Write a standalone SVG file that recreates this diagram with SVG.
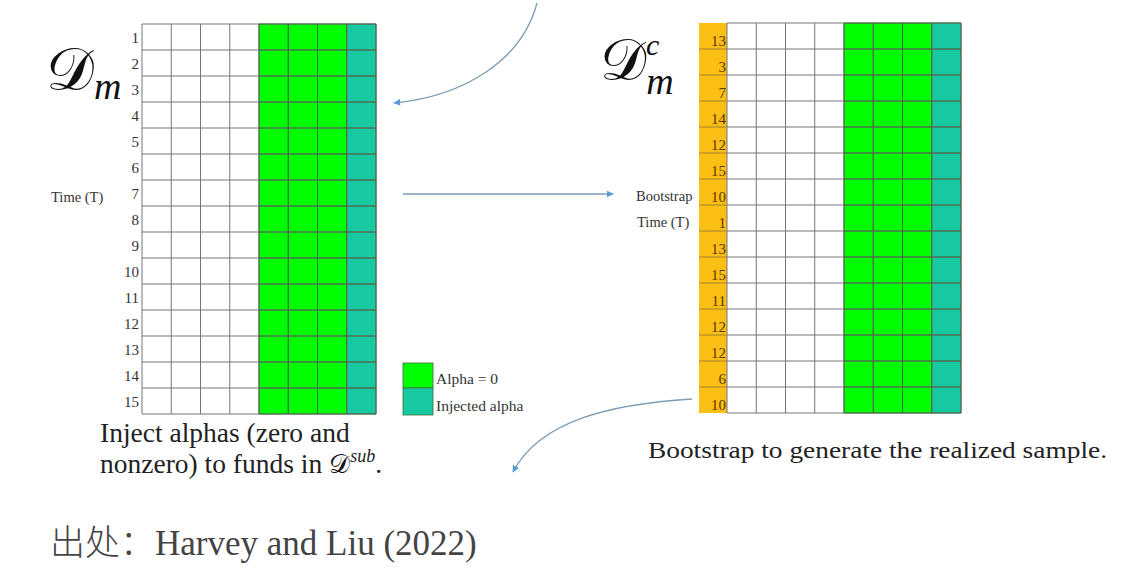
<svg xmlns="http://www.w3.org/2000/svg" width="1139" height="581" viewBox="0 0 1139 581">
<style>
.num{font-family:"Liberation Serif",serif;font-size:15px;fill:#333;text-anchor:end}
.onum{font-family:"Liberation Serif",serif;font-size:15px;fill:#5a3600;text-anchor:end}
.lab{font-family:"Liberation Serif",serif;font-size:14.5px;fill:#333}
.cal{font-family:"DejaVu Serif","Liberation Serif",serif;fill:#111}
.it{font-family:"Liberation Serif",serif;font-style:italic}
.cap{font-family:"Liberation Serif",serif;font-size:27.5px;fill:#222}
.grid{stroke:#777;stroke-width:1;fill:none}
.gridg{stroke:#3c6b3c;stroke-width:1;fill:none}
.conn{fill:none;stroke:#7d9db5;stroke-width:1.3}
</style>
<defs>
<marker id="ah" viewBox="0 0 10 10" refX="9" refY="5" markerWidth="7" markerHeight="7" orient="auto" markerUnits="userSpaceOnUse">
<path d="M0,0 L10,5 L0,10 z" fill="#5b9bd5"/>
</marker>
</defs>
<rect width="1139" height="581" fill="#fff"/>

<g id="left-grid">
<rect x="142" y="24" width="234" height="390" fill="#fff"/>
<rect x="259" y="24" width="87.75" height="390" fill="#00ff00"/>
<rect x="346.75" y="24" width="29.25" height="390" fill="#17c9a0"/>
<path class="grid" d="M142,24V414M171.25,24V414M200.5,24V414M229.75,24V414M259,24V414M288.25,24V414M317.5,24V414M346.75,24V414M376,24V414
M142,24H376M142,50H376M142,76H376M142,102H376M142,128H376M142,154H376M142,180H376M142,206H376M142,232H376M142,258H376M142,284H376M142,310H376M142,336H376M142,362H376M142,388H376M142,414H376"/>
<path class="gridg" d="M259,24V414M288.25,24V414M317.5,24V414M346.75,24V414M376,24V414M259,24H376M259,50H376M259,76H376M259,102H376M259,128H376M259,154H376M259,180H376M259,206H376M259,232H376M259,258H376M259,284H376M259,310H376M259,336H376M259,362H376M259,388H376M259,414H376"/>
<text class="num" x="139" y="43">1</text>
<text class="num" x="139" y="69">2</text>
<text class="num" x="139" y="95">3</text>
<text class="num" x="139" y="121">4</text>
<text class="num" x="139" y="147">5</text>
<text class="num" x="139" y="173">6</text>
<text class="num" x="139" y="199">7</text>
<text class="num" x="139" y="225">8</text>
<text class="num" x="139" y="251">9</text>
<text class="num" x="139" y="277">10</text>
<text class="num" x="139" y="303">11</text>
<text class="num" x="139" y="329">12</text>
<text class="num" x="139" y="355">13</text>
<text class="num" x="139" y="381">14</text>
<text class="num" x="139" y="407">15</text>
<text class="lab" x="51" y="202">Time (T)</text>
<text class="cal" x="46" y="90" font-size="60">𝒟<tspan class="it" font-size="38" dy="9">m</tspan></text>
</g>

<g id="right-grid">
<rect x="699" y="23" width="28" height="390" fill="#fcbf14"/>
<rect x="727" y="23" width="234" height="390" fill="#fff"/>
<rect x="844" y="23" width="87.75" height="390" fill="#00ff00"/>
<rect x="931.75" y="23" width="29.25" height="390" fill="#17c9a0"/>
<path class="grid" d="M727,23V413M756.25,23V413M785.5,23V413M814.75,23V413M844,23V413M873.25,23V413M902.5,23V413M931.75,23V413M961,23V413
M727,23H961M699,49H961M699,75H961M699,101H961M699,127H961M699,153H961M699,179H961M699,205H961M699,231H961M699,257H961M699,283H961M699,309H961M699,335H961M699,361H961M699,387H961M727,413H961"/>
<path d="M699,49H727M699,75H727M699,101H727M699,127H727M699,153H727M699,179H727M699,205H727M699,231H727M699,257H727M699,283H727M699,309H727M699,335H727M699,361H727M699,387H727" stroke="#e0a800" stroke-width="1"/>
<path class="gridg" d="M844,23V413M873.25,23V413M902.5,23V413M931.75,23V413M961,23V413M844,23H961M844,49H961M844,75H961M844,101H961M844,127H961M844,153H961M844,179H961M844,205H961M844,231H961M844,257H961M844,283H961M844,309H961M844,335H961M844,361H961M844,387H961M844,413H961"/>
<text class="onum" x="726" y="46">13</text>
<text class="onum" x="726" y="72">3</text>
<text class="onum" x="726" y="98">7</text>
<text class="onum" x="726" y="124">14</text>
<text class="onum" x="726" y="150">12</text>
<text class="onum" x="726" y="176">15</text>
<text class="onum" x="726" y="202">10</text>
<text class="onum" x="726" y="228">1</text>
<text class="onum" x="726" y="254">13</text>
<text class="onum" x="726" y="280">15</text>
<text class="onum" x="726" y="306">11</text>
<text class="onum" x="726" y="332">12</text>
<text class="onum" x="726" y="358">12</text>
<text class="onum" x="726" y="384">6</text>
<text class="onum" x="726" y="410">10</text>
<text class="lab" x="636" y="201">Bootstrap</text>
<text class="lab" x="637" y="227">Time (T)</text>
<text class="cal" x="600" y="80" font-size="58">𝒟<tspan class="it" font-size="30" dy="-25">c</tspan><tspan class="it" font-size="38" dx="-13" dy="39">m</tspan></text>
</g>

<g id="legend">
<rect x="403" y="363" width="30" height="25" fill="#00ff00" stroke="#3c6b3c" stroke-width="0.8"/>
<rect x="403" y="388" width="30" height="27" fill="#17c9a0" stroke="#3c6b3c" stroke-width="0.8"/>
<text class="lab" x="436" y="384" style="font-size:15.5px">Alpha = 0</text>
<text class="lab" x="436" y="411" style="font-size:15.5px">Injected alpha</text>
</g>

<g id="captions">
<text class="cap" x="100" y="442">Inject alphas (zero and</text>
<text class="cap" x="100" y="473">nonzero) to funds in <tspan class="cal" style="font-size:26px">𝒟</tspan><tspan style="font-style:italic;font-size:18px" dy="-11">sub</tspan><tspan dy="11">.</tspan></text>
<text class="cap" x="648" y="458" style="font-size:24px" textLength="459" lengthAdjust="spacingAndGlyphs">Bootstrap to generate the realized sample.</text>
<text x="50" y="555" style="font-family:'Liberation Serif','Noto Sans CJK SC',serif;font-size:35px;fill:#444"><tspan style="font-family:'Noto Sans CJK SC',sans-serif;font-weight:300">出处：</tspan>Harvey and Liu (2022)</text>
</g>

<g id="connectors">
<path class="conn" d="M537,3 C522,60 465,96 394,103" marker-end="url(#ah)"/>
<path class="conn" d="M403,194 H613" marker-end="url(#ah)"/>
<path class="conn" d="M692,399 C612,404 540,420 513,472" marker-end="url(#ah)"/>
</g>
</svg>
